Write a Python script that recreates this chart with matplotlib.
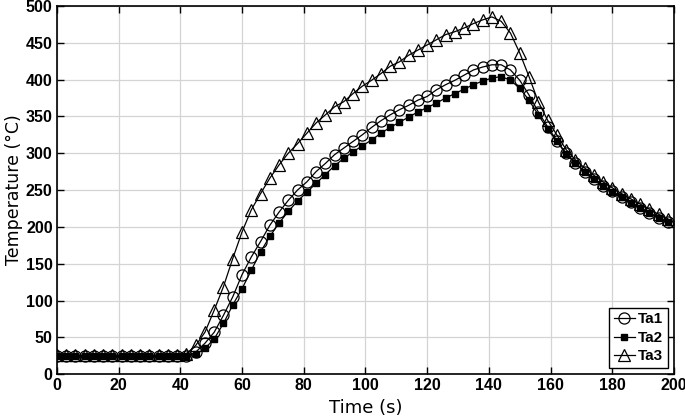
import numpy as np
import matplotlib
matplotlib.use("Agg")
import matplotlib.pyplot as plt

# time axis, one sample every 3 s
time_s = np.arange(0, 199, 3)

# temperatures (degC)
ta1 = [24, 24, 24, 24, 24, 24, 24, 24, 24, 24, 24, 24, 24, 24, 24,
       30, 42, 57, 80, 105, 135, 159, 180, 202, 220, 236, 250, 261, 275,
       286, 298, 307, 316, 325, 335, 344, 352, 359, 365, 372, 377, 386,
       393, 399, 406, 413, 417, 420, 420, 413, 399, 379, 356, 336, 317,
       300, 287, 275, 265, 256, 248, 241, 234, 226, 219, 212, 206]
ta2 = [25, 25, 25, 25, 25, 25, 25, 25, 25, 25, 25, 25, 25, 25, 25,
       27, 35, 48, 69, 94, 116, 141, 166, 187, 205, 221, 235, 247, 259,
       271, 283, 293, 302, 310, 318, 327, 335, 342, 349, 356, 362, 368,
       375, 381, 387, 393, 398, 402, 404, 399, 388, 372, 352, 333, 316,
       299, 286, 275, 265, 256, 247, 240, 233, 226, 219, 212, 206]
ta3 = [26, 26, 26, 26, 26, 26, 26, 26, 26, 26, 26, 26, 26, 26, 28,
       39, 57, 87, 119, 157, 193, 223, 245, 266, 284, 300, 313, 327, 341,
       352, 363, 370, 381, 391, 399, 408, 418, 424, 433, 440, 447, 454,
       461, 465, 470, 476, 481, 485, 479, 463, 436, 404, 370, 345, 325,
       305, 291, 280, 270, 261, 253, 245, 238, 231, 224, 217, 211]

fig = plt.figure(figsize=(6.85, 4.19), dpi=100)
ax = fig.add_axes([0.083, 0.107, 0.901, 0.879])

ax.plot(time_s, ta1, color='black', lw=0.9, marker='o', ms=8,
        mfc='none', mec='black', mew=0.9, label='Ta1')
ax.plot(time_s, ta2, color='black', lw=0.9, marker='s', ms=4.5,
        mfc='black', mec='black', label='Ta2')
ax.plot(time_s, ta3, color='black', lw=0.9, marker='^', ms=8.5,
        mfc='none', mec='black', mew=0.9, label='Ta3')

ax.set_xlim(0, 200)
ax.set_ylim(0, 500)
ax.set_xticks(np.arange(0, 201, 20))
ax.set_yticks(np.arange(0, 501, 50))
ax.grid(True, color='#d4d4d4', lw=0.9)
ax.set_axisbelow(True)
ax.tick_params(direction='in', top=True, right=True, length=5, width=1, pad=3)
for lab in ax.get_xticklabels() + ax.get_yticklabels():
    lab.set_fontfamily('Liberation Sans')
    lab.set_fontweight('bold')
    lab.set_fontsize(11.5)
for s in ax.spines.values():
    s.set_linewidth(1.2)

ax.set_xlabel('Time (s)', fontsize=13, labelpad=4)
ax.set_ylabel('Temperature (°C)', fontsize=12.5, labelpad=2)

leg = ax.legend(loc='lower right', handlelength=1.4, handletextpad=0.2,
                borderpad=0.3, labelspacing=0.3, fancybox=False,
                framealpha=1, borderaxespad=0.4,
                prop={'family': 'Liberation Sans', 'weight': 'bold', 'size': 11})
leg.get_frame().set_edgecolor('black')
leg.get_frame().set_linewidth(1.0)

fig.savefig('out.png', dpi=100)
